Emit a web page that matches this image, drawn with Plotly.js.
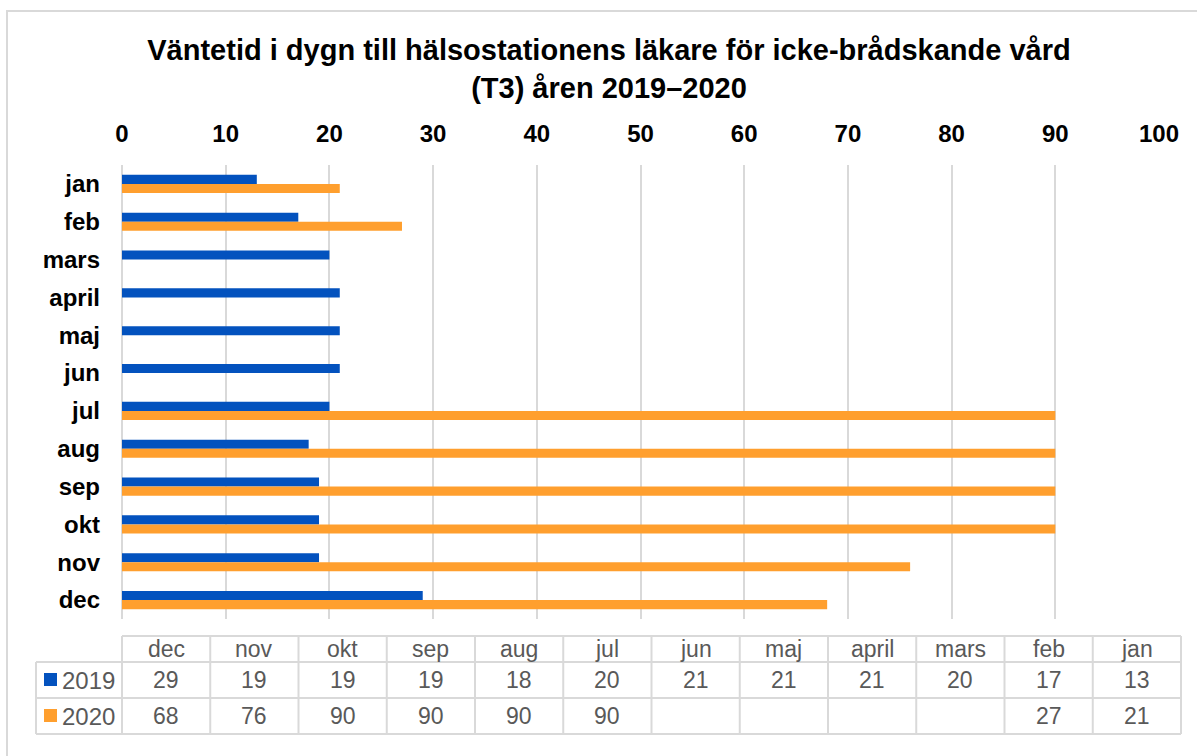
<!DOCTYPE html>
<html>
<head>
<meta charset="utf-8">
<script src="https://cdn.plot.ly/plotly-3.0.1.min.js"></script>
<style>
  html, body { margin: 0; padding: 0; background: #ffffff; }
  #myDiv { width: 1197px; height: 756px; }
</style>
</head>
<body>
<div id="myDiv"></div>
<script>
// Data
const months = ['jan', 'feb', 'mars', 'april', 'maj', 'jun', 'jul', 'aug', 'sep', 'okt', 'nov', 'dec'];
const years = ['2019', '2020'];
const values2019 = [13, 17, 20, 21, 21, 21, 20, 18, 19, 19, 19, 29];
const values2020 = [21, 27, null, null, null, null, 90, 90, 90, 90, 76, 68];
const xTicks = [0, 10, 20, 30, 40, 50, 60, 70, 80, 90, 100];

const blue = '#0352BE';
const orange = '#FF9F2E';
const grey = '#D9D9D9';
const textGrey = '#595959';
const fam = 'Liberation Sans, Arial, sans-serif';

// plot area in pixels
const L = 122, R = 1159, T = 165, B = 619;
const W = 1197, H = 756;
function fx(px) { return (px - L) / (R - L); }
function fy(py) { return (B - py) / (B - T); }

let trace2019 = {
    y: months,
    x: values2019,
    name: '2019',
    type: 'bar',
    orientation: 'h',
    marker: { color: blue },
    hoverinfo: 'none'
};

let trace2020 = {
    y: months,
    x: values2020,
    name: '2020',
    type: 'bar',
    orientation: 'h',
    marker: { color: orange },
    hoverinfo: 'none'
};

// data table under the chart (columns dec ... jan)
const tblLeft = 122, tblRight = 1181, hdrLeft = 36;
const rowLines = [636, 662, 698, 734];
const colW = (tblRight - tblLeft) / months.length;
const tableCols = months.slice().reverse();
const tableRows = [values2019.slice().reverse(), values2020.slice().reverse()];

let shapes = [];
let annotations = [];

// outer frame
shapes.push({
    type: 'rect', xref: 'paper', yref: 'paper',
    x0: fx(7), x1: fx(W + 10), y0: fy(11), y1: fy(H + 10),
    line: { color: grey, width: 2 }
});

// horizontal table lines
rowLines.forEach(function(y, i) {
    shapes.push({
        type: 'line', xref: 'paper', yref: 'paper',
        x0: fx(i === 0 ? tblLeft : hdrLeft), x1: fx(tblRight), y0: fy(y), y1: fy(y),
        line: { color: grey, width: 2 }
    });
});
// vertical table lines
shapes.push({
    type: 'line', xref: 'paper', yref: 'paper',
    x0: fx(hdrLeft), x1: fx(hdrLeft), y0: fy(rowLines[1]), y1: fy(rowLines[3]),
    line: { color: grey, width: 2 }
});
for (let k = 0; k <= months.length; k++) {
    let x = tblLeft + k * colW;
    shapes.push({
        type: 'line', xref: 'paper', yref: 'paper',
        x0: fx(x), x1: fx(x), y0: fy(rowLines[0]), y1: fy(rowLines[3]),
        line: { color: grey, width: 2 }
    });
}

// header labels
tableCols.forEach(function(m, i) {
    annotations.push({
        xref: 'paper', yref: 'paper', xanchor: 'center', yanchor: 'middle',
        x: fx(tblLeft + (i + 0.5) * colW), y: fy(649),
        text: m, showarrow: false,
        font: { family: fam, size: 23, color: textGrey }
    });
});

// rows with legend keys
const rowCenters = [680, 716];
const keyColors = [blue, orange];
tableRows.forEach(function(row, r) {
    let yc = rowCenters[r];
    shapes.push({
        type: 'rect', xref: 'paper', yref: 'paper',
        x0: fx(44), x1: fx(57), y0: fy(yc - 7), y1: fy(yc + 6),
        fillcolor: keyColors[r], line: { width: 0 }
    });
    annotations.push({
        xref: 'paper', yref: 'paper', xanchor: 'left', yanchor: 'middle',
        x: fx(60), y: fy(yc),
        text: years[r], showarrow: false,
        font: { family: fam, size: 24, color: textGrey }
    });
    row.forEach(function(v, i) {
        if (v === null) return;
        annotations.push({
            xref: 'paper', yref: 'paper', xanchor: 'center', yanchor: 'middle',
            x: fx(tblLeft + (i + 0.5) * colW), y: fy(yc),
            text: String(v), showarrow: false,
            font: { family: fam, size: 23, color: textGrey }
        });
    });
});

let layout = {
    width: W,
    height: H,
    paper_bgcolor: '#ffffff',
    plot_bgcolor: '#ffffff',
    font: { family: fam, color: '#000000' },
    title: {
        text: '<b>Väntetid i dygn till hälsostationens läkare för icke-brådskande vård<br>(T3) åren 2019–2020</b>',
        font: { family: fam, size: 29, color: '#000000' },
        xref: 'container', yref: 'container',
        x: 609 / W, xanchor: 'center',
        y: 1 - 60 / H, yanchor: 'top'
    },
    xaxis: {
        side: 'top',
        range: [0, 100],
        tickvals: xTicks,
        ticks: '',
        ticklabelstandoff: 17,
        tickfont: { family: fam, size: 24, color: '#000000', weight: 'bold' },
        showgrid: true,
        gridcolor: grey,
        gridwidth: 2,
        zeroline: true,
        zerolinecolor: grey,
        zerolinewidth: 2,
        showline: false,
        fixedrange: true
    },
    yaxis: {
        type: 'category',
        autorange: 'reversed',
        ticks: '',
        ticklabelstandoff: 21,
        tickfont: { family: fam, size: 24, color: '#000000', weight: 'bold' },
        showgrid: false,
        zeroline: false,
        showline: false,
        fixedrange: true
    },
    barmode: 'group',
    bargap: 0.52,
    bargroupgap: 0,
    showlegend: false,
    margin: { l: L, r: W - R, t: T, b: H - B, pad: 0 },
    shapes: shapes,
    annotations: annotations
};

Plotly.newPlot('myDiv', [trace2019, trace2020], layout, { displayModeBar: false, staticPlot: true });
</script>
</body>
</html>
